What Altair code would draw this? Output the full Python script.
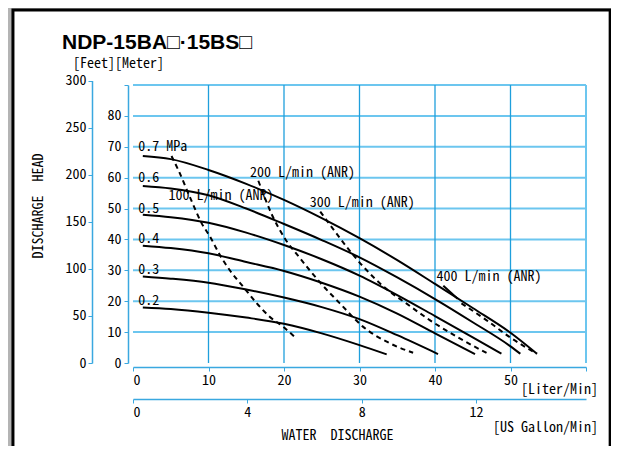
import altair as alt
import pandas as pd

# ---------------- data ----------------
# pressure curves: water discharge [L/min] vs discharge head [m]
p07_x = [1.3, 5, 10, 15, 20, 25, 30, 35, 40, 45, 50, 53.5]
p07_y = [67, 66, 62.5, 58, 52.8, 46.9, 40.4, 33.3, 25.6, 17.8, 9.8, 3]
p06_x = [1.3, 5, 10, 15, 20, 25, 30, 35, 40, 45, 50, 51.3]
p06_y = [57.3, 56.5, 54.3, 50.0, 45.0, 39.8, 34.2, 27.7, 20.7, 13.2, 5.4, 3.0]
p05_x = [1.3, 5, 10, 15, 20, 25, 30, 35, 40, 45, 48.8]
p05_y = [48, 47.2, 45.4, 42.2, 38.2, 33.6, 28.3, 22.0, 15.2, 8.3, 3]
p04_x = [1.3, 5, 10, 15, 20, 25, 30, 35, 40, 45.3]
p04_y = [38, 37.2, 35.5, 32.7, 29.8, 26.0, 21.5, 16.0, 9.6, 2.9]
p03_x = [1.3, 5, 10, 15, 20, 25, 30, 35, 40.4]
p03_y = [28, 27.3, 26, 23.8, 21.2, 18.1, 14.2, 9.0, 2.9]
p02_x = [1.3, 5, 10, 15, 20, 25, 30, 33.6]
p02_y = [18, 17.5, 16.3, 14.7, 12.7, 9.6, 5.8, 2.8]

# air consumption curves (dashed)
a100_x = [5.1, 6.0, 7.8, 9.1, 10.2, 11.5, 12.8, 14.6, 16.4, 18.1, 19.9, 21.7]
a100_y = [67, 62.5, 52.2, 45.2, 40.9, 35, 30.1, 24.7, 19.3, 15.0, 11.7, 7.8]
a200_x = [16.6, 18.4, 20.2, 22.1, 24.8, 27.4, 30.5, 34.0, 37.1]
a200_y = [59, 48, 40, 34, 26, 19.3, 11.7, 6.4, 3.3]
a300_x = [24.8, 26.1, 28.3, 30.5, 33.2, 36.2, 39.3, 42.9, 47.1]
a300_y = [49, 44.7, 37.6, 31.2, 24.7, 19.3, 13.9, 8.5, 2.9]
a400_x = [43.5, 46.8, 50, 53.5]
a400_y = [19.3, 13.9, 8.2, 3]
lead400_x = [41.1, 43.0]
lead400_y = [25.0, 20.8]

# curve labels
lab_text = ["0.7 MPa", "0.6", "0.5", "0.4", "0.3", "0.2",
            "100 L/min (ANR)", "200 L/min (ANR)", "300 L/min (ANR)", "400 L/min (ANR)"]
lab_x = [0.7, 0.7, 0.7, 0.7, 0.7, 0.7, 4.7, 15.5, 23.4, 40.2]
lab_y = [70, 60, 50, 40, 30, 20, 54.1, 61.5, 51.9, 27.9]

# axes
meter_ticks = [0, 10, 20, 30, 40, 50, 60, 70, 80, 90]
feet_ticks = [0, 50, 100, 150, 200, 250, 300]
liter_ticks = [0, 10, 20, 30, 40, 50, 60]
gallon_ticks = [0, 4, 8, 12]
h_grid = [10, 20, 30, 40, 50, 60, 70, 80, 90]
v_grid = [10, 20, 30, 40, 50]
v_border = [60]

# annotation texts (placed in liter / meter data units)
NB = "\u00a0"
ann_text = ["[Feet][Meter]", "[Liter/Min]", "[US Gallon/Min]", "WATER" + NB * 2 + "DISCHARGE"]
ann_x = [-7.95, 61.6, 61.6, 27.1]
ann_y = [96.8, -8.7, -20.9, -23.6]
ann_align = ["left", "right", "right", "center"]
title_text = "NDP-15BA□·15BS□"
yt_text = "DISCHARGE" + NB * 2 + "HEAD"
frame_box = [-15.9, 63.2, -40.0, 114.3]

# ---------------- chart ----------------
W, H = 453, 278
XD = [0, 60]
YD = [0, 90]
MONO = "Noto Sans Mono CJK JP, DejaVu Sans Mono, monospace"
GRID_LIGHT = "#6cc6ef"
GRID_DARK = "#1f9fdc"
AXIS_BLUE = "#3aa8e0"

xs = alt.Scale(domain=XD, nice=False, zero=False)
ys = alt.Scale(domain=YD, nice=False, zero=False)

def curves(names, xl, yl):
    rows = []
    for n, xx, yy in zip(names, xl, yl):
        for i, (a, b) in enumerate(zip(xx, yy)):
            rows.append({"series": n, "x": a, "y": b, "o": i})
    return pd.DataFrame(rows)

solid_df = curves(["0.7", "0.6", "0.5", "0.4", "0.3", "0.2", "lead"],
                  [p07_x, p06_x, p05_x, p04_x, p03_x, p02_x, lead400_x],
                  [p07_y, p06_y, p05_y, p04_y, p03_y, p02_y, lead400_y])
dash_df = curves(["100", "200", "300", "400"],
                 [a100_x, a200_x, a300_x, a400_x],
                 [a100_y, a200_y, a300_y, a400_y])

frame_df = pd.DataFrame({"x0": [frame_box[0]], "x1": [frame_box[1]],
                         "y0": [frame_box[2]], "y1": [frame_box[3]]})
frame = alt.Chart(frame_df).mark_rect(fill="white", stroke="black", strokeWidth=3).encode(
    x=alt.X("x0:Q", scale=xs, axis=None), x2="x1:Q",
    y=alt.Y("y0:Q", scale=ys, axis=None), y2="y1:Q")

hg_df = pd.DataFrame({"y": h_grid, "x0": 0, "x1": 60})
hgrid = alt.Chart(hg_df).mark_rule(color=GRID_LIGHT, strokeWidth=2).encode(
    y=alt.Y("y:Q", scale=ys, axis=None),
    x=alt.X("x0:Q", scale=xs, axis=None), x2="x1:Q")

vg_df = pd.DataFrame({"x": v_grid, "y0": 0, "y1": 90})
vgrid = alt.Chart(vg_df).mark_rule(color=GRID_DARK, strokeWidth=1.3).encode(
    x=alt.X("x:Q", scale=xs, axis=None),
    y=alt.Y("y0:Q", scale=ys, axis=None), y2="y1:Q")

vb_df = pd.DataFrame({"x": v_border, "y0": 0, "y1": 90})
vborder = alt.Chart(vb_df).mark_rule(color=GRID_LIGHT, strokeWidth=2).encode(
    x=alt.X("x:Q", scale=xs, axis=None),
    y=alt.Y("y0:Q", scale=ys, axis=None), y2="y1:Q")

ax_common = dict(domainColor=AXIS_BLUE, tickColor=AXIS_BLUE, tickSize=4, domainWidth=1.5,
                 labelFont=MONO, labelFontSize=14, labelColor="black", grid=False,
                 title=None, zindex=1)

solid = alt.Chart(solid_df).mark_line(color="black", strokeWidth=2, interpolate="monotone").encode(
    x=alt.X("x:Q", scale=xs, axis=alt.Axis(orient="bottom", offset=4, values=liter_ticks,
                                           labelExpr="datum.value == 60 ? '' : datum.label",
                                           labelPadding=2, **ax_common)),
    y=alt.Y("y:Q", scale=ys, axis=alt.Axis(orient="left", offset=5, values=meter_ticks,
                                           labelExpr="datum.value == 90 ? '' : datum.label",
                                           labelPadding=3, **ax_common)),
    detail="series:N", order="o:Q")

dashed = alt.Chart(dash_df).mark_line(color="black", strokeWidth=2, strokeDash=[5, 4],
                                      interpolate="monotone").encode(
    x=alt.X("x:Q", scale=xs, axis=None),
    y=alt.Y("y:Q", scale=ys, axis=None),
    detail="series:N", order="o:Q")

lab_df = pd.DataFrame({"t": lab_text, "x": lab_x, "y": lab_y})
labels = alt.Chart(lab_df).mark_text(font=MONO, fontSize=14, align="left", baseline="middle",
                                     color="black").encode(
    x=alt.X("x:Q", scale=xs, axis=None),
    y=alt.Y("y:Q", scale=ys, axis=None), text="t:N")

ann_df = pd.DataFrame({"t": ann_text, "x": ann_x, "y": ann_y, "a": ann_align})
ann_layers = []
for al in ["left", "right", "center"]:
    sub = ann_df[ann_df.a == al]
    ann_layers.append(alt.Chart(sub).mark_text(font=MONO, fontSize=14, align=al, baseline="middle",
                                               color="black").encode(
        x=alt.X("x:Q", scale=xs, axis=None),
        y=alt.Y("y:Q", scale=ys, axis=None), text="t:N"))

ttl_df = pd.DataFrame({"t": [title_text], "x": [-9.4], "y": [101.7]})
ttl = alt.Chart(ttl_df).mark_text(font="Liberation Sans, DejaVu Sans", fontSize=21, fontWeight="bold",
                                  align="left", baseline="alphabetic", color="black").encode(
    x=alt.X("x:Q", scale=xs, axis=None),
    y=alt.Y("y:Q", scale=ys, axis=None), text="t:N")

yt_df = pd.DataFrame({"t": [yt_text], "x": [-12.45], "y": [50.8]})
ytitle = alt.Chart(yt_df).mark_text(font=MONO, fontSize=14, angle=270, align="center",
                                    baseline="middle", color="black").encode(
    x=alt.X("x:Q", scale=xs, axis=None),
    y=alt.Y("y:Q", scale=ys, axis=None), text="t:N")

# secondary axes: feet and US gallon/min
feet_df = pd.DataFrame({"ft": feet_ticks})
feet = alt.Chart(feet_df).mark_point(opacity=0).encode(
    y=alt.Y("ft:Q", scale=alt.Scale(domain=[0, 300], range=[H, H - 300 * 0.3048 * H / 90], nice=False),
            axis=alt.Axis(orient="left", offset=41, values=feet_ticks, labelPadding=2, **ax_common)),
    x=alt.X("ft:Q", scale=alt.Scale(domain=[0, 300]), axis=None))

gal_df = pd.DataFrame({"g": gallon_ticks})
gallon = alt.Chart(gal_df).mark_point(opacity=0).encode(
    x=alt.X("g:Q", scale=alt.Scale(domain=[0, 60 / 3.78541], nice=False, zero=False),
            axis=alt.Axis(orient="bottom", offset=36, values=gallon_ticks, labelPadding=2, **ax_common)),
    y=alt.Y("g:Q", scale=alt.Scale(domain=[0, 20]), axis=None))

chart = alt.layer(frame, hgrid, vgrid, vborder, dashed, solid, labels, *ann_layers, ttl, ytitle,
                  feet, gallon).resolve_scale(x="independent", y="independent").properties(
    width=W, height=H,
    autosize=alt.AutoSizeParams(type="none"),
    padding={"left": 125, "top": 77, "right": 25, "bottom": 83},
    background="#b4b4b4",
).configure_view(stroke=None)

chart.save("out.html", embed_options={"renderer": "svg", "actions": False})
